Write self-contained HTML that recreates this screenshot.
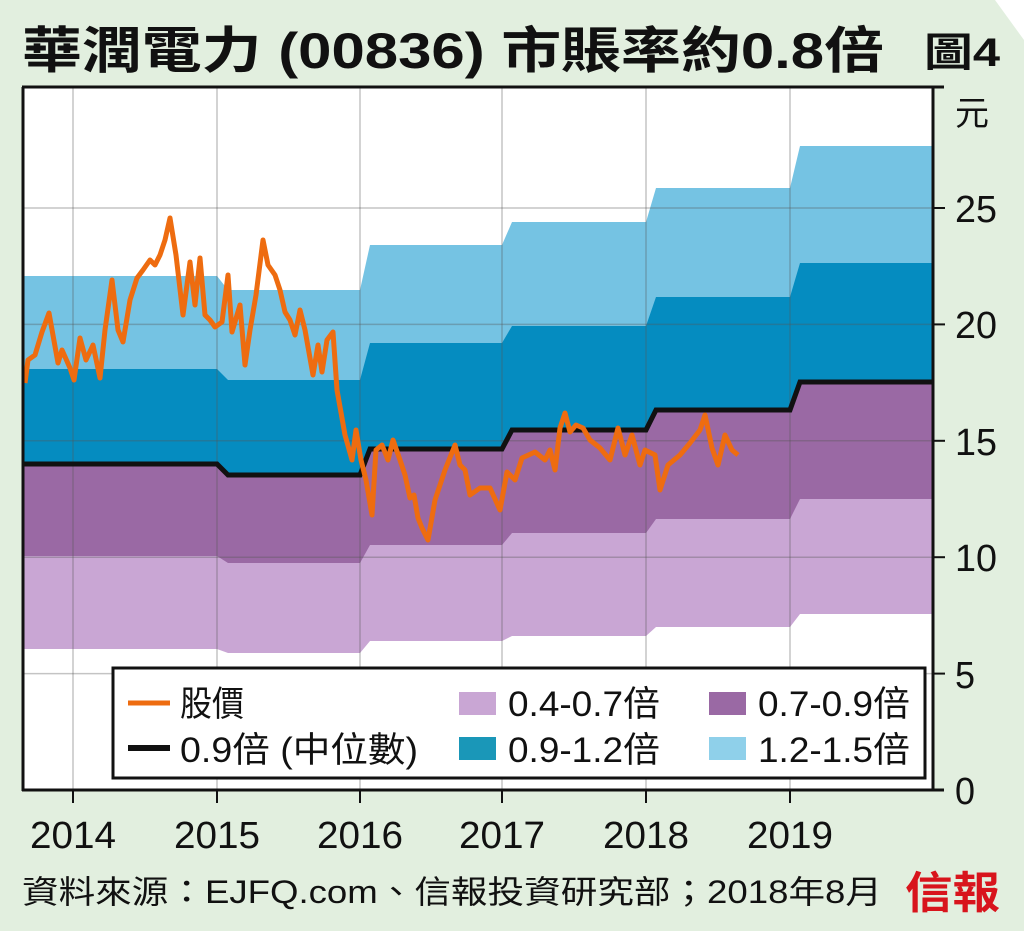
<!DOCTYPE html>
<html><head><meta charset="utf-8"><style>
html,body{margin:0;padding:0;background:#e2efdf;}
svg{display:block;}
text{font-family:"Liberation Sans","Noto Sans CJK TC",sans-serif;fill:#111;}
</style></head><body>
<svg width="1024" height="931" viewBox="0 0 1024 931" xmlns="http://www.w3.org/2000/svg">
<rect width="1024" height="931" fill="#e2efdf"/>
<polygon points="995,0 1024,0 1024,40" fill="#ffffff"/>
<text x="22" y="68" font-size="50" font-weight="bold" textLength="862" lengthAdjust="spacingAndGlyphs">華潤電力 (00836) 市賬率約0.8倍</text>
<text x="924" y="66" font-size="40" font-weight="bold" textLength="76" lengthAdjust="spacingAndGlyphs">圖4</text>
<rect x="23" y="87" width="910" height="703" fill="#ffffff"/>
<polygon fill="#75c3e3" points="23,276 217,276 228,290 360,290 370,245 502,245 512,222 646,222 656,188 790,188 800,146 932,146 932,790 23,790"/>
<polygon fill="#058cc0" points="23,369 217,369 228,380 360,380 370,343 502,343 512,326 646,326 656,297 790,297 800,263 932,263 932,790 23,790"/>
<polygon fill="#9a69a4" points="23,464 217,464 228,475 360,475 370,449 502,449 512,430 646,430 656,410 790,410 800,382 932,382 932,790 23,790"/>
<polygon fill="#c9a6d4" points="23,556 217,556 228,563 360,563 370,545 502,545 512,533 646,533 656,519 790,519 800,499 932,499 932,790 23,790"/>
<polygon fill="#ffffff" points="23,649 217,649 228,653 360,653 370,641 502,641 512,636 646,636 656,627 790,627 800,614 932,614 932,790 23,790"/>
<g stroke="#555" stroke-opacity="0.35" stroke-width="1.5">
<line x1="23" y1="673.6" x2="932" y2="673.6"/>
<line x1="23" y1="557.2" x2="932" y2="557.2"/>
<line x1="23" y1="440.8" x2="932" y2="440.8"/>
<line x1="23" y1="324.4" x2="932" y2="324.4"/>
<line x1="23" y1="208" x2="932" y2="208"/>
<line x1="73" y1="87" x2="73" y2="790"/>
<line x1="217" y1="87" x2="217" y2="790"/>
<line x1="360" y1="87" x2="360" y2="790"/>
<line x1="502" y1="87" x2="502" y2="790"/>
<line x1="646" y1="87" x2="646" y2="790"/>
<line x1="790" y1="87" x2="790" y2="790"/>
</g>
<polyline fill="none" stroke="#111" stroke-width="5" points="23,464 217,464 228,475 360,475 370,449 502,449 512,430 646,430 656,410 790,410 800,382 932,382"/>
<polyline fill="none" stroke="#ee6c10" stroke-width="5" stroke-linejoin="round" points="25,383 28,360 35,355 42,332 49,313 58,363 62,350 70,368 74,380 80,338 86,360 93,345 100,378 105,330 112,280 118,330 123,342 130,300 137,278 143,270 150,260 155,265 160,255 165,240 170,218 176,255 183,315 190,262 195,305 200,258 205,315 210,320 215,327 222,322 228,275 232,332 240,305 245,365 250,330 256,295 263,240 268,265 275,275 280,290 285,312 290,320 295,335 300,310 305,330 313,375 318,345 322,372 327,340 333,332 337,390 345,435 352,460 356,430 361,460 366,480 372,515 376,450 382,445 388,460 393,440 400,460 405,475 410,498 414,495 418,518 422,528 428,540 435,500 445,470 455,445 460,465 465,470 470,495 480,488 490,488 500,510 507,472 515,480 522,458 535,452 545,460 550,450 555,470 560,428 565,413 570,432 576,425 583,428 590,440 600,448 610,460 618,428 625,455 632,435 640,465 645,450 655,455 660,490 668,465 680,455 690,443 700,430 705,415 712,448 718,465 725,435 732,450 738,455"/>
<line x1="22" y1="87" x2="944" y2="87" stroke="#111" stroke-width="3"/>
<line x1="23" y1="87" x2="23" y2="791" stroke="#111" stroke-width="3"/>
<line x1="933" y1="87" x2="933" y2="791" stroke="#111" stroke-width="3"/>
<line x1="22" y1="790" x2="944" y2="790" stroke="#111" stroke-width="3"/>
<g stroke="#111" stroke-width="2">
<line x1="933" y1="673.6" x2="945" y2="673.6"/><line x1="933" y1="557.2" x2="945" y2="557.2"/>
<line x1="933" y1="440.8" x2="945" y2="440.8"/><line x1="933" y1="324.4" x2="945" y2="324.4"/>
<line x1="933" y1="208" x2="945" y2="208"/>
<line x1="73" y1="790" x2="73" y2="803"/><line x1="217" y1="790" x2="217" y2="803"/>
<line x1="360" y1="790" x2="360" y2="803"/><line x1="502" y1="790" x2="502" y2="803"/>
<line x1="646" y1="790" x2="646" y2="803"/><line x1="790" y1="790" x2="790" y2="803"/>
</g>
<g font-size="38">
<text x="955" y="125" font-size="34">元</text>
<text x="955" y="222" textLength="42" lengthAdjust="spacingAndGlyphs">25</text>
<text x="955" y="338" textLength="42" lengthAdjust="spacingAndGlyphs">20</text>
<text x="955" y="455" textLength="42" lengthAdjust="spacingAndGlyphs">15</text>
<text x="955" y="571" textLength="42" lengthAdjust="spacingAndGlyphs">10</text>
<text x="955" y="688" textLength="20" lengthAdjust="spacingAndGlyphs">5</text>
<text x="955" y="804" textLength="20" lengthAdjust="spacingAndGlyphs">0</text>
</g>
<g font-size="38" text-anchor="middle">
<text x="73" y="848" textLength="86" lengthAdjust="spacingAndGlyphs">2014</text>
<text x="217" y="848" textLength="86" lengthAdjust="spacingAndGlyphs">2015</text>
<text x="360" y="848" textLength="86" lengthAdjust="spacingAndGlyphs">2016</text>
<text x="502" y="848" textLength="86" lengthAdjust="spacingAndGlyphs">2017</text>
<text x="646" y="848" textLength="86" lengthAdjust="spacingAndGlyphs">2018</text>
<text x="790" y="848" textLength="86" lengthAdjust="spacingAndGlyphs">2019</text>
</g>
<rect x="113" y="668" width="812" height="110" fill="#fff" stroke="#111" stroke-width="3"/>
<line x1="128" y1="703" x2="170" y2="703" stroke="#ee6c10" stroke-width="5"/>
<line x1="128" y1="748" x2="170" y2="748" stroke="#111" stroke-width="6"/>
<g font-size="35">
<text x="180" y="716" textLength="64" lengthAdjust="spacingAndGlyphs">股價</text>
<text x="180" y="762" textLength="238" lengthAdjust="spacingAndGlyphs">0.9倍 (中位數)</text>
<text x="508" y="716" textLength="152" lengthAdjust="spacingAndGlyphs">0.4-0.7倍</text>
<text x="508" y="762" textLength="152" lengthAdjust="spacingAndGlyphs">0.9-1.2倍</text>
<text x="758" y="716" textLength="152" lengthAdjust="spacingAndGlyphs">0.7-0.9倍</text>
<text x="758" y="762" textLength="152" lengthAdjust="spacingAndGlyphs">1.2-1.5倍</text>
</g>
<rect x="459" y="692" width="37" height="23" fill="#c9a6d4"/>
<rect x="459" y="737" width="37" height="23" fill="#1a97b8"/>
<rect x="709" y="692" width="37" height="23" fill="#9a69a4"/>
<rect x="709" y="737" width="37" height="23" fill="#8fd0ea"/>
<text x="22" y="903" font-size="32" textLength="860" lengthAdjust="spacingAndGlyphs">資料來源：EJFQ.com、信報投資研究部；2018年8月</text>
<text x="905" y="908" font-size="44" font-weight="bold" style="fill:#d8141c" font-family="'Noto Serif CJK SC',serif" textLength="95" lengthAdjust="spacingAndGlyphs">信報</text>
</svg>
</body></html>
